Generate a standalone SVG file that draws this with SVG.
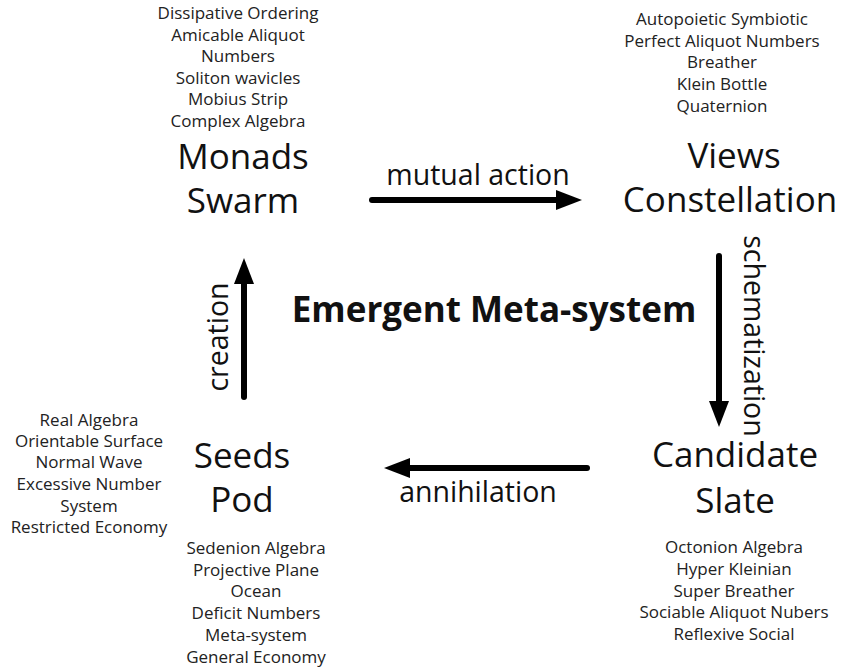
<svg xmlns="http://www.w3.org/2000/svg" width="849" height="669" viewBox="0 0 849 669">
  <style>
    text { font-family: "Open Sans", "Noto Sans", "Liberation Sans", sans-serif; fill: #111; text-anchor: middle; }
    .small { font-size: 17px; fill: #222; }
    .big { font-size: 35px; }
    .edge { font-size: 28.5px; }
    .title { font-size: 35px; font-weight: bold; }
    .conn { stroke: #000; stroke-width: 6; stroke-linecap: round; fill: none; marker-end: url(#head); }
  </style>
  <defs>
    <marker id="head" markerUnits="userSpaceOnUse" viewBox="0 0 26 20" refX="2" refY="10" markerWidth="26" markerHeight="20" orient="auto">
      <path d="M0,0 L26,10 L0,20 Z" fill="#000"/>
    </marker>
  </defs>

  <rect width="849" height="669" fill="#fff"/>

  <!-- connectors and their labels -->
  <g id="connectors">
    <path class="conn" d="M372,200 L558,200"/>
    <path class="conn" d="M719,256 L719,403"/>
    <path class="conn" d="M587,468 L408,468"/>
    <path class="conn" d="M244,397 L244,282"/>
    <text class="edge" x="478" y="185">mutual action</text>
    <text class="edge" transform="translate(744,336) rotate(90)">schematization</text>
    <text class="edge" x="478" y="502">annihilation</text>
    <text class="edge" transform="translate(228,337) rotate(-90)">creation</text>
  </g>

  <g id="center-title">
    <text class="title" x="494" y="322">Emergent Meta-system</text>
  </g>

  <!-- Monads / Swarm -->
  <g id="monads">
    <text class="small" x="238" y="19">Dissipative Ordering</text>
    <text class="small" x="238" y="41">Amicable Aliquot</text>
    <text class="small" x="238" y="62">Numbers</text>
    <text class="small" x="238" y="84">Soliton wavicles</text>
    <text class="small" x="238" y="105">Mobius Strip</text>
    <text class="small" x="238" y="127">Complex Algebra</text>
    <text class="big" x="243" y="169">Monads</text>
    <text class="big" x="243" y="213">Swarm</text>
  </g>

  <!-- Views / Constellation -->
  <g id="views">
    <text class="small" x="722" y="25">Autopoietic Symbiotic</text>
    <text class="small" x="722" y="47">Perfect Aliquot Numbers</text>
    <text class="small" x="722" y="68">Breather</text>
    <text class="small" x="722" y="90">Klein Bottle</text>
    <text class="small" x="722" y="112">Quaternion</text>
    <text class="big" x="734" y="168">Views</text>
    <text class="big" x="730" y="212">Constellation</text>
  </g>

  <!-- Candidate / Slate -->
  <g id="candidate">
    <text class="big" x="735" y="467">Candidate</text>
    <text class="big" x="735" y="513">Slate</text>
    <text class="small" x="734" y="553">Octonion Algebra</text>
    <text class="small" x="734" y="575">Hyper Kleinian</text>
    <text class="small" x="734" y="597">Super Breather</text>
    <text class="small" x="734" y="618">Sociable Aliquot Nubers</text>
    <text class="small" x="734" y="640">Reflexive Social</text>
  </g>

  <!-- Seeds / Pod -->
  <g id="seeds">
    <text class="big" x="242" y="468">Seeds</text>
    <text class="big" x="242" y="512">Pod</text>
    <text class="small" x="89" y="426">Real Algebra</text>
    <text class="small" x="89" y="447">Orientable Surface</text>
    <text class="small" x="89" y="468">Normal Wave</text>
    <text class="small" x="89" y="490">Excessive Number</text>
    <text class="small" x="89" y="512">System</text>
    <text class="small" x="89" y="533">Restricted Economy</text>
    <text class="small" x="256" y="554">Sedenion Algebra</text>
    <text class="small" x="256" y="576">Projective Plane</text>
    <text class="small" x="256" y="597">Ocean</text>
    <text class="small" x="256" y="619">Deficit Numbers</text>
    <text class="small" x="256" y="641">Meta-system</text>
    <text class="small" x="256" y="663">General Economy</text>
  </g>
</svg>
